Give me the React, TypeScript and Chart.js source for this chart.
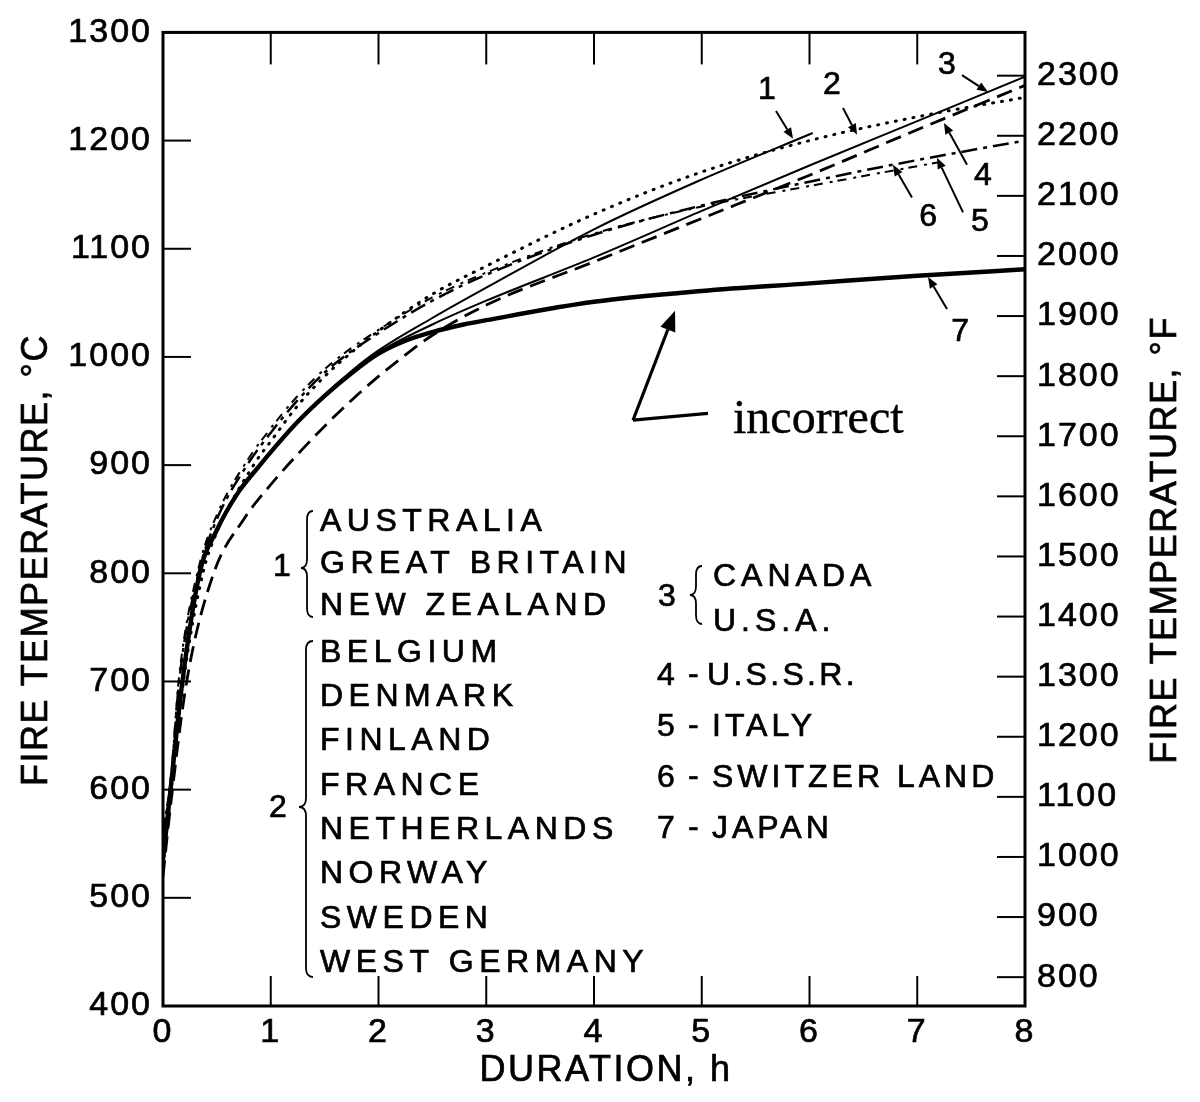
import React, { useEffect, useRef } from "react";
import { Chart, registerables } from "chart.js";

Chart.register(...registerables);

// ---- values: duration (h) -> fire temperature (°C) ----
// 1: Australia, Great Britain, New Zealand (solid, ends at 6 h)
const H1 = [0, 0.07, 0.18, 0.34, 0.5, 0.7, 0.9, 1.0, 1.25, 1.5, 1.75, 2.0, 2.5, 3.0, 4.0, 5.0, 6.03];
const C1 = [535, 600, 700, 800, 840, 875, 900, 912, 940, 965, 987, 1006, 1036, 1064, 1118, 1164, 1207];
// 2: Belgium ... West Germany (dotted)
const H2 = [0, 0.07, 0.19, 0.37, 0.5, 0.84, 1.0, 1.25, 1.5, 1.7, 2.0, 2.5, 3.0, 4.0, 5.0, 6.0, 7.0, 8.0];
const C2 = [530, 595, 700, 800, 838, 900, 922, 955, 982, 1000, 1024, 1058, 1084, 1132, 1171, 1200, 1222, 1240];
// 3: Canada, U.S.A. (solid)
const H3 = [0, 0.07, 0.18, 0.34, 0.5, 0.7, 0.9, 1.0, 1.25, 1.5, 1.75, 2.0, 2.5, 3.0, 4.0, 5.0, 6.0, 7.0, 8.0];
const C3 = [535, 600, 700, 800, 840, 875, 900, 912, 940, 964, 985, 1004, 1030, 1052, 1092, 1135, 1177, 1218, 1259];
// 4: U.S.S.R. (dashed)
const H4 = [0, 0.07, 0.22, 0.47, 0.75, 1.0, 1.25, 1.5, 1.75, 2.0, 2.2, 2.5, 3.0, 4.0, 5.0, 6.0, 7.0, 8.0];
const C4 = [520, 585, 700, 800, 850, 882, 910, 936, 960, 982, 998, 1020, 1048, 1088, 1128, 1168, 1210, 1251];
// 5: Italy
const H5 = [0, 0.07, 0.15, 0.33, 0.5, 0.78, 1.0, 1.25, 1.55, 2.0, 2.5, 3.0, 4.0, 5.0, 6.0, 7.0, 8.0];
const C5 = [560, 605, 700, 800, 850, 900, 930, 960, 990, 1022, 1052, 1076, 1113, 1140, 1162, 1182, 1200];
// 6: Switzerland
const H6 = [0, 0.07, 0.15, 0.33, 0.5, 0.78, 1.0, 1.25, 1.55, 2.0, 2.5, 3.0, 4.0, 5.0, 6.0, 7.2];
const C6 = [563, 609, 705, 805, 854, 904, 934, 964, 993, 1025, 1055, 1078, 1114, 1139, 1158, 1180];
// 7: Japan (thick solid)
const H7 = [0, 0.07, 0.18, 0.34, 0.5, 0.7, 0.9, 1.0, 1.25, 1.5, 1.75, 2.0, 2.25, 2.5, 2.79, 3.0, 4.0, 5.0, 6.0, 7.0, 8.0];
const C7 = [535, 600, 700, 800, 840, 875, 900, 912, 940, 964, 985, 1003, 1015, 1023, 1030, 1034, 1051, 1061, 1068, 1075, 1081];

// ---- axes ----
const X_TICKS = [0, 1, 2, 3, 4, 5, 6, 7, 8];
const C_TICKS = [400, 500, 600, 700, 800, 900, 1000, 1100, 1200, 1300];
const F_TICKS = [800, 900, 1000, 1100, 1200, 1300, 1400, 1500, 1600, 1700, 1800, 1900, 2000, 2100, 2200, 2300];
const X_MIN = 0, X_MAX = 8, C_MIN = 400, C_MAX = 1300;
const toF = (c: number) => (c * 9) / 5 + 32;

// ---- curve call-outs: label position, arrow from -> to (data units: h, °C) ----
const CURVE_LABELS = ["1", "2", "3", "4", "5", "6", "7"];
const LABEL_POS = [[5.605, 1246.7], [6.209, 1251.3], [7.276, 1269.7], [7.61, 1166.7], [7.582, 1124.4], [7.1, 1129], [7.397, 1023.3]];
const ARROW_FROM = [[5.689, 1227.4], [6.311, 1230.1], [7.415, 1260.5], [7.462, 1177.7], [7.425, 1133.6], [6.951, 1147.4], [7.276, 1044.4]];
const ARROW_TO = [[5.847, 1201.6], [6.441, 1205.3], [7.657, 1244.8], [7.248, 1216.3], [7.183, 1184.2], [6.775, 1177.7], [7.1, 1073.8]];
const NOTE_TEXT = "incorrect";
const NOTE_PATH = [[5.058, 947.9], [4.362, 941.5], [4.752, 1042.6]];
const NOTE_POS = [5.29, 929.5];

// ---- legend text ----
const GROUP1 = ["AUSTRALIA", "GREAT BRITAIN", "NEW ZEALAND"];
const GROUP2 = ["BELGIUM", "DENMARK", "FINLAND", "FRANCE", "NETHERLANDS", "NORWAY", "SWEDEN", "WEST GERMANY"];
const GROUP3 = ["CANADA", "U.S.A."];
const SINGLE_NUMS = ["4", "5", "6", "7"];
const SINGLE_NAMES = ["U.S.S.R.", "ITALY", "SWITZER LAND", "JAPAN"];

const SANS = "'Liberation Sans', Arial, Helvetica, sans-serif";
const SERIF = "'Liberation Serif', 'Times New Roman', serif";

const pts = (h: number[], c: number[]) => h.map((v, i) => ({ x: v, y: c[i] }));

function txt(ctx: CanvasRenderingContext2D, s: string, x: number, y: number, font: string, align: CanvasTextAlign, base: CanvasTextBaseline, spacing: number, stroke = 0.7) {
  ctx.font = font;
  ctx.textAlign = align;
  ctx.textBaseline = base;
  (ctx as any).letterSpacing = spacing + "px";
  ctx.fillText(s, x, y);
  if (stroke > 0) {
    ctx.lineWidth = stroke;
    ctx.strokeText(s, x, y);
  }
}

function arrow(ctx: CanvasRenderingContext2D, x1: number, y1: number, x2: number, y2: number, lw: number, head: number) {
  const ang = Math.atan2(y2 - y1, x2 - x1);
  const hw = head * 0.4;
  const bx = x2 - head * Math.cos(ang);
  const by = y2 - head * Math.sin(ang);
  ctx.lineWidth = lw;
  ctx.beginPath();
  ctx.moveTo(x1, y1);
  ctx.lineTo(bx, by);
  ctx.stroke();
  ctx.beginPath();
  ctx.moveTo(x2, y2);
  ctx.lineTo(bx + hw * Math.sin(ang), by - hw * Math.cos(ang));
  ctx.lineTo(bx - hw * Math.sin(ang), by + hw * Math.cos(ang));
  ctx.closePath();
  ctx.fill();
}

function brace(ctx: CanvasRenderingContext2D, x: number, yTop: number, yMid: number, yBot: number, w: number) {
  const r = 9;
  ctx.lineWidth = 1.8;
  ctx.beginPath();
  ctx.moveTo(x, yTop);
  ctx.quadraticCurveTo(x - w, yTop, x - w, yTop + r);
  ctx.lineTo(x - w, yMid - r);
  ctx.quadraticCurveTo(x - w, yMid, x - 2 * w, yMid);
  ctx.quadraticCurveTo(x - w, yMid, x - w, yMid + r);
  ctx.lineTo(x - w, yBot - r);
  ctx.quadraticCurveTo(x - w, yBot, x, yBot);
  ctx.stroke();
}

const decorPlugin = {
  id: "decor",
  beforeDraw(chart: any) {
    chart.ctx.letterSpacing = "2px";
  },
  afterDraw(chart: any) {
    const { ctx, chartArea: a, scales } = chart;
    const sx = scales.x, sy = scales.y, sy2 = scales.y2;
    const P = (h: number, c: number) => [sx.getPixelForValue(h), sy.getPixelForValue(c)];
    ctx.save();
    ctx.strokeStyle = "#000";
    ctx.fillStyle = "#000";
    ctx.lineCap = "butt";

    // frame
    ctx.lineWidth = 3;
    ctx.strokeRect(a.left, a.top, a.right - a.left, a.bottom - a.top);

    // inward tick marks
    ctx.lineWidth = 2;
    const line = (x1: number, y1: number, x2: number, y2: number) => {
      ctx.beginPath();
      ctx.moveTo(x1, y1);
      ctx.lineTo(x2, y2);
      ctx.stroke();
    };
    C_TICKS.forEach((v) => { const py = sy.getPixelForValue(v); line(a.left, py, a.left + 28, py); });
    F_TICKS.forEach((v) => { const py = sy2.getPixelForValue(v); line(a.right - 28, py, a.right, py); });
    X_TICKS.forEach((v) => {
      const px = sx.getPixelForValue(v);
      line(px, a.top, px, a.top + 32);
      line(px, a.bottom, px, a.bottom - 30);
    });

    // axis titles
    txt(ctx, "DURATION, h", 606, 1071, `36px ${SANS}`, "center", "middle", 2.5);
    ctx.save();
    ctx.translate(37, 560);
    ctx.rotate(-Math.PI / 2);
    txt(ctx, "FIRE TEMPERATURE, °C", 0, 0, `36px ${SANS}`, "center", "middle", 1.5);
    ctx.restore();
    ctx.save();
    ctx.translate(1166, 540);
    ctx.rotate(-Math.PI / 2);
    txt(ctx, "FIRE TEMPERATURE, °F", 0, 0, `36px ${SANS}`, "center", "middle", 1.5);
    ctx.restore();

    // curve call-outs
    CURVE_LABELS.forEach((lab, i) => {
      const [tx, ty] = P(LABEL_POS[i][0], LABEL_POS[i][1]);
      txt(ctx, lab, tx, ty, `32px ${SANS}`, "center", "middle", 0);
      const [fx, fy] = P(ARROW_FROM[i][0], ARROW_FROM[i][1]);
      const [gx, gy] = P(ARROW_TO[i][0], ARROW_TO[i][1]);
      arrow(ctx, fx, fy, gx, gy, 2, 11);
    });

    // "incorrect" note
    const np = NOTE_PATH.map((p) => P(p[0], p[1]));
    ctx.lineWidth = 3.2;
    ctx.beginPath();
    ctx.moveTo(np[0][0], np[0][1]);
    ctx.lineTo(np[1][0], np[1][1]);
    ctx.stroke();
    arrow(ctx, np[1][0], np[1][1], np[2][0], np[2][1], 3.2, 20);
    const [nx, ny] = P(NOTE_POS[0], NOTE_POS[1]);
    txt(ctx, NOTE_TEXT, nx, ny, `48px ${SERIF}`, "left", "alphabetic", 0, 0.4);

    // legend
    const LF = `32px ${SANS}`;
    GROUP1.forEach((s, i) => txt(ctx, s, 320, 522 + i * 42, LF, "left", "middle", 5.5));
    txt(ctx, "1", 282, 567, LF, "center", "middle", 0);
    brace(ctx, 313, 511, 568, 617, 6);
    GROUP2.forEach((s, i) => txt(ctx, s, 320, 653 + i * 44.3, LF, "left", "middle", 5.5));
    txt(ctx, "2", 278, 808, LF, "center", "middle", 0);
    brace(ctx, 313, 641, 807, 977, 7);
    GROUP3.forEach((s, i) => txt(ctx, s, 713, 577 + i * 45, LF, "left", "middle", 5));
    txt(ctx, "3", 667, 597, LF, "center", "middle", 0);
    brace(ctx, 702, 566, 595, 624, 6);
    SINGLE_NUMS.forEach((n, i) => {
      const yy = 676 + i * 51;
      txt(ctx, n, 657, yy, LF, "left", "middle", 0);
      txt(ctx, "-", 688, yy - 1, LF, "left", "middle", 0);
      txt(ctx, SINGLE_NAMES[i], i === 0 ? 707 : 712, yy, LF, "left", "middle", i === 0 ? 3.3 : 4);
    });

    ctx.restore();
  },
};

export default function App() {
  const ref = useRef<HTMLCanvasElement | null>(null);
  useEffect(() => {
    if (!ref.current) return;
    const common = { pointRadius: 0, borderColor: "#000", backgroundColor: "#000", fill: false, cubicInterpolationMode: "monotone" as const };
    const tickFont = { family: SANS, size: 34 };
    const tickCommon = { color: "#000", font: tickFont, autoSkip: false, textStrokeColor: "#000", textStrokeWidth: 0.7, callback: (v: any) => String(v) };
    const chart = new Chart(ref.current, {
      type: "line",
      data: {
        datasets: [
          { ...common, label: "1", data: pts(H1, C1), borderWidth: 2 },
          { ...common, label: "2", data: pts(H2, C2), borderWidth: 3, borderDash: [1, 8], borderCapStyle: "round" },
          { ...common, label: "3", data: pts(H3, C3), borderWidth: 2 },
          { ...common, label: "4", data: pts(H4, C4), borderWidth: 2.8, borderDash: [16, 8] },
          { ...common, label: "5", data: pts(H5, C5), borderWidth: 2.5, borderDash: [16, 6, 4, 6] },
          { ...common, label: "6", data: pts(H6, C6), borderWidth: 2, borderDash: [9, 7, 3, 5] },
          { ...common, label: "7", data: pts(H7, C7), borderWidth: 4.4 },
        ] as any,
      },
      options: {
        animation: false,
        responsive: false,
        maintainAspectRatio: false,
        layout: { padding: { top: 27, left: 0, right: 0, bottom: 0 } },
        plugins: { legend: { display: false }, tooltip: { enabled: false } },
        elements: { point: { radius: 0 } },
        scales: {
          x: {
            type: "linear",
            position: "bottom",
            min: X_MIN,
            max: X_MAX,
            afterBuildTicks: (s: any) => { s.ticks = X_TICKS.map((v) => ({ value: v })); },
            afterFit: (s: any) => { s.height = 96; },
            grid: { display: false, drawTicks: false },
            border: { display: false },
            ticks: { ...tickCommon, padding: 6, maxRotation: 0 },
          },
          y: {
            type: "linear",
            position: "left",
            min: C_MIN,
            max: C_MAX,
            afterBuildTicks: (s: any) => { s.ticks = C_TICKS.map((v) => ({ value: v })); },
            afterFit: (s: any) => { s.width = 163; },
            grid: { display: false, drawTicks: false },
            border: { display: false },
            ticks: { ...tickCommon, padding: 11 },
          },
          y2: {
            type: "linear",
            position: "right",
            min: toF(C_MIN),
            max: toF(C_MAX),
            afterBuildTicks: (s: any) => { s.ticks = F_TICKS.map((v) => ({ value: v })); },
            afterFit: (s: any) => { s.width = 175; },
            grid: { display: false, drawTicks: false },
            border: { display: false },
            ticks: { ...tickCommon, padding: 12 },
          },
        },
      } as any,
      plugins: [decorPlugin],
    });
    return () => chart.destroy();
  }, []);
  return (
    <div style={{ position: "absolute", left: 0, top: 0, width: 1200, height: 1102, background: "#fff" }}>
      <canvas ref={ref} width={1200} height={1102} style={{ display: "block", width: 1200, height: 1102 }} />
    </div>
  );
}
